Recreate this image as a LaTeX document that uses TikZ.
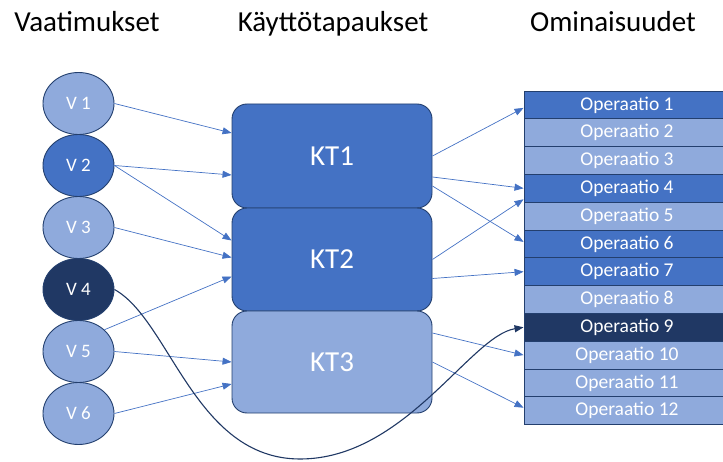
\documentclass[tikz,border=0pt]{standalone}
\usepackage[]{xcolor}
\usepackage{fontspec}
\setmainfont{Carlito}
\usepackage{tikz}
\usetikzlibrary{shapes.geometric,arrows.meta}

\definecolor{midblue}{HTML}{4472C4}
\definecolor{lightblue}{HTML}{8FAADC}
\definecolor{darkblue}{HTML}{203864}
\definecolor{edgeblue}{HTML}{233F6E}

\tikzset{
  header/.style={anchor=base,font=\fontsize{29}{32}\selectfont},
  req/.style={ellipse,draw=edgeblue,line width=0.9pt,minimum width=71,minimum height=62,
    inner sep=0pt,text=white,font=\fontsize{19}{21}\selectfont},
  usecase/.style={rectangle,rounded corners=15,draw=edgeblue,line width=0.9pt,
    minimum width=200,text=white,font=\fontsize{29}{32}\selectfont},
  oprow/.style={rectangle,draw=edgeblue,line width=0.9pt,minimum width=206,
    minimum height=27.8,inner sep=0pt,text=white,font=\fontsize{19.5}{21}\selectfont},
  link/.style={midblue,line width=0.7pt,-{Triangle[length=9pt,width=7pt]}},
  jump/.style={darkblue,line width=1.1pt,-{Triangle[length=9pt,width=7pt]}}
}

\begin{document}
\begin{tikzpicture}[x=1pt,y=-1pt]
        \useasboundingbox (0,0) rectangle (723,462);
        \clip (0,0) rectangle (723,462);
        % otsikot
        \node[header] (hreq) at ( 87,32) {Vaatimukset};
        \node[header] (huc)  at (333,32) {Käyttötapaukset};
        \node[header] (hop)  at (613,32) {Ominaisuudet};
        % vaatimukset
        \foreach \i/\c in {1/lightblue,2/midblue,3/lightblue,4/darkblue,5/lightblue,6/lightblue}
            \node[req,fill=\c] (v\i) at (78.5,103.5+62*\i-62) {V \i};
        % kayttotapaukset
        \node[usecase,fill=midblue,minimum height=104]   (kt1) at (332,156)   {KT1};
        \node[usecase,fill=midblue,minimum height=103]   (kt2) at (332,259.5) {KT2};
        \node[usecase,fill=lightblue,minimum height=102] (kt3) at (332,362)   {KT3};
        % ominaisuudet
        \foreach \i/\c in {1/midblue,2/lightblue,3/lightblue,4/midblue,5/lightblue,6/midblue,
                           7/midblue,8/lightblue,9/darkblue,10/lightblue,11/lightblue,12/lightblue}
            \node[oprow,fill=\c] (op\i) at (627,77.1+27.8*\i) {Operaatio \i};
        % vaatimukset -> kayttotapaukset
        \draw[link] (v1.east) -- ([yshift=23]kt1.west);
        \draw[link] (v2.east) -- ([yshift=-19]kt1.west);
        \draw[link] (v2.east) -- ([yshift=19]kt2.west);
        \draw[link] (v3.east) -- ([yshift=2]kt2.west);
        \draw[link] (v5.40)   -- ([yshift=-17]kt2.west);
        \draw[link] (v5.east) -- (kt3.west);
        \draw[link] (v6.east) -- ([yshift=-22]kt3.west);
        % kayttotapaukset -> ominaisuudet
        \draw[link] (kt1.east) -- ([yshift=-3]op1.west);
        \draw[link] ([yshift=-21]kt1.east) -- (op4.west);
        \draw[link] ([yshift=-30]kt1.east) -- ([yshift=2]op6.west);
        \draw[link] (kt2.east) -- ([yshift=-11]op4.west);
        \draw[link] ([yshift=-19]kt2.east) -- (op7.west);
        \draw[link] ([yshift=29]kt3.east) -- (op10.west);
        \draw[link] (kt3.east) -- ([yshift=3]op12.west);
        % V 4 suoraan operaatioon 9
        \draw[jump] (v4.east) .. controls (170,320) and (195,459) .. (300,459)
                    .. controls (405,459) and (470,336) .. (op9.west);
\end{tikzpicture}
\end{document}
